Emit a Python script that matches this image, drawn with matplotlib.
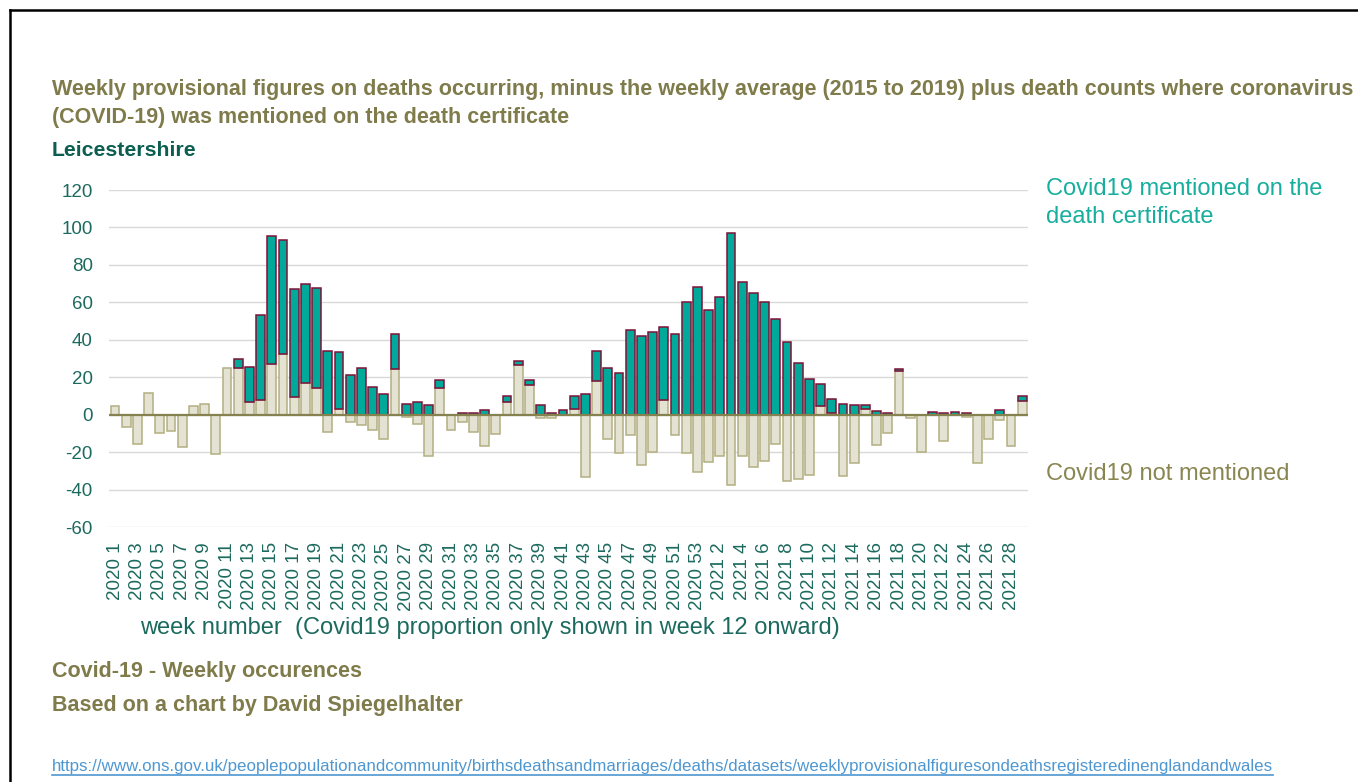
import numpy as np
import matplotlib.pyplot as plt
from matplotlib.lines import Line2D

plt.rcParams['font.family'] = ['Liberation Sans', 'DejaVu Sans']
plt.rcParams['axes.unicode_minus'] = False

# week labels: 2020 weeks 1-53, 2021 weeks 1-29
weeks = ["2020 %d" % w for w in range(1, 54)] + ["2021 %d" % w for w in range(1, 30)]

# excess deaths where covid was not mentioned (weekly deaths - 2015-19 average - covid)
not_mentioned = [4.5, -6.5, -15.5, 11.5, -10, -8.5, -17.5, 4.5, 5.5, -21,
                 25, 25, 7, 8, 27, 32.5, 9.5, 17, 14.5, -9,
                 3, -4, -5.5, -8, -13, 24.5, -1, -5, -22, 14.5,
                 -8, -4, -9.5, -16.5, -10.5, 7, 26.5, 16, -2, -2,
                 0, 3, -33.5, 18, -13, -20.5, -11, -27, -20, 8,
                 -11, -20.5, -30.5, -25.5, -22, -37.5, -22, -28, -24.5, -15.5,
                 -35.5, -34.5, -32, 4.5, 1, -33, -26, 3, -16, -10,
                 23.5, -2, -20, 0, -14, 0, -1, -26, -13, -3,
                 -16.5, 7.5]
# deaths with covid19 mentioned on the certificate
mentioned = [0, 0, 0, 0, 0, 0, 0, 0, 0, 0,
             0, 5, 18.5, 45.5, 68.5, 61, 57.5, 53, 53, 34,
             30.5, 21, 25, 15, 11, 18.5, 5.5, 7, 5, 4,
             0, 1, 1, 2.5, 0, 3, 2, 2.5, 5, 1,
             2.5, 7, 11, 16, 25, 22, 45, 42, 44, 39,
             43, 60, 68, 56, 63, 97, 71, 65, 60, 51,
             39, 27.5, 19, 12, 7.5, 5.5, 5, 2, 2, 1,
             1, 0, 0, 1.5, 1, 1.5, 1, 0, 0, 2.5,
             0, 2.5]

olive = '#7F7B4B'
dark_teal = '#1C6A5E'
teal = '#00A99A'

fig = plt.figure(figsize=(13.58, 7.82), dpi=100)
W, H = 1358.0, 782.0
ax = fig.add_axes([109.4 / W, 1 - 527 / H, 918.4 / W, 337 / H])

x = np.arange(len(weeks))
nm = np.array(not_mentioned)
cv = np.array(mentioned)

ax.bar(x, nm, width=0.8, color='#E4E2D3', edgecolor='#B3AF82', linewidth=1.1, zorder=2)
base = np.clip(nm, 0, None)
has = cv > 0
ax.bar(x[has], cv[has], bottom=base[has], width=0.8, color=teal,
       edgecolor='#7E1238', linewidth=1.1, zorder=3)
ax.axhline(0, color='#85824F', lw=1.6, zorder=4)

ax.set_xlim(-0.5, len(weeks) - 0.5)
ax.set_ylim(-60, 120)
ax.set_yticks(np.arange(-60, 121, 20))
ax.set_xticks(x[::2])
ax.set_xticklabels(weeks[::2], rotation=90)
ax.tick_params(axis='both', length=0, labelsize=13.5, labelcolor=dark_teal)
ax.tick_params(axis='y', pad=12)
ax.tick_params(axis='x', pad=11)
ax.yaxis.grid(True, color='#D9D9D9', lw=1.0, zorder=0)
ax.set_axisbelow(True)
for s in ax.spines.values():
    s.set_visible(False)

def px(xp, yp):
    return xp / W, 1 - yp / H

fig.text(*px(52, 90), "Weekly provisional figures on deaths occurring, minus the weekly average (2015 to 2019) "
         "plus death counts where coronavirus", fontsize=15.5, fontweight='bold', color=olive, va='center')
fig.text(*px(52, 118), "(COVID-19) was mentioned on the death certificate",
         fontsize=15.5, fontweight='bold', color=olive, va='center')
fig.text(*px(52, 150), "Leicestershire", fontsize=15.3, fontweight='bold', color='#0B5E50', va='center')

fig.text(*px(1046, 203), "Covid19 mentioned on the\ndeath certificate", fontsize=17,
         color='#17AE9E', va='center', linespacing=1.38)
fig.text(*px(1046, 474), "Covid19 not mentioned", fontsize=17, color='#8A8652', va='center')
fig.text(*px(140, 628), "week number  (Covid19 proportion only shown in week 12 onward)",
         fontsize=17, color=dark_teal, va='center')

fig.text(*px(52, 672), "Covid-19 - Weekly occurences", fontsize=15.5, fontweight='bold',
         color=olive, va='center')
fig.text(*px(52, 705), "Based on a chart by David Spiegelhalter", fontsize=15.5, fontweight='bold',
         color=olive, va='center')

url = fig.text(*px(52, 766), "https://www.ons.gov.uk/peoplepopulationandcommunity/birthsdeathsandmarriages/"
               "deaths/datasets/weeklyprovisionalfiguresondeathsregisteredinenglandandwales",
               fontsize=12.2, color='#4E97D1', va='center')
r = fig.canvas.get_renderer()
bb = url.get_window_extent(r)
fig.add_artist(Line2D([bb.x0 / W, bb.x1 / W], [1 - 775 / H, 1 - 775 / H],
                      transform=fig.transFigure, color='#4E97D1', lw=1.2))

# frame lines
fig.add_artist(Line2D([10 / W, 1.0], [1 - 10 / H, 1 - 10 / H], transform=fig.transFigure,
                      color='black', lw=1.8))
fig.add_artist(Line2D([10 / W, 10 / W], [1 - 10 / H, 0], transform=fig.transFigure,
                      color='black', lw=1.8))

fig.savefig('out.png', dpi=100)
